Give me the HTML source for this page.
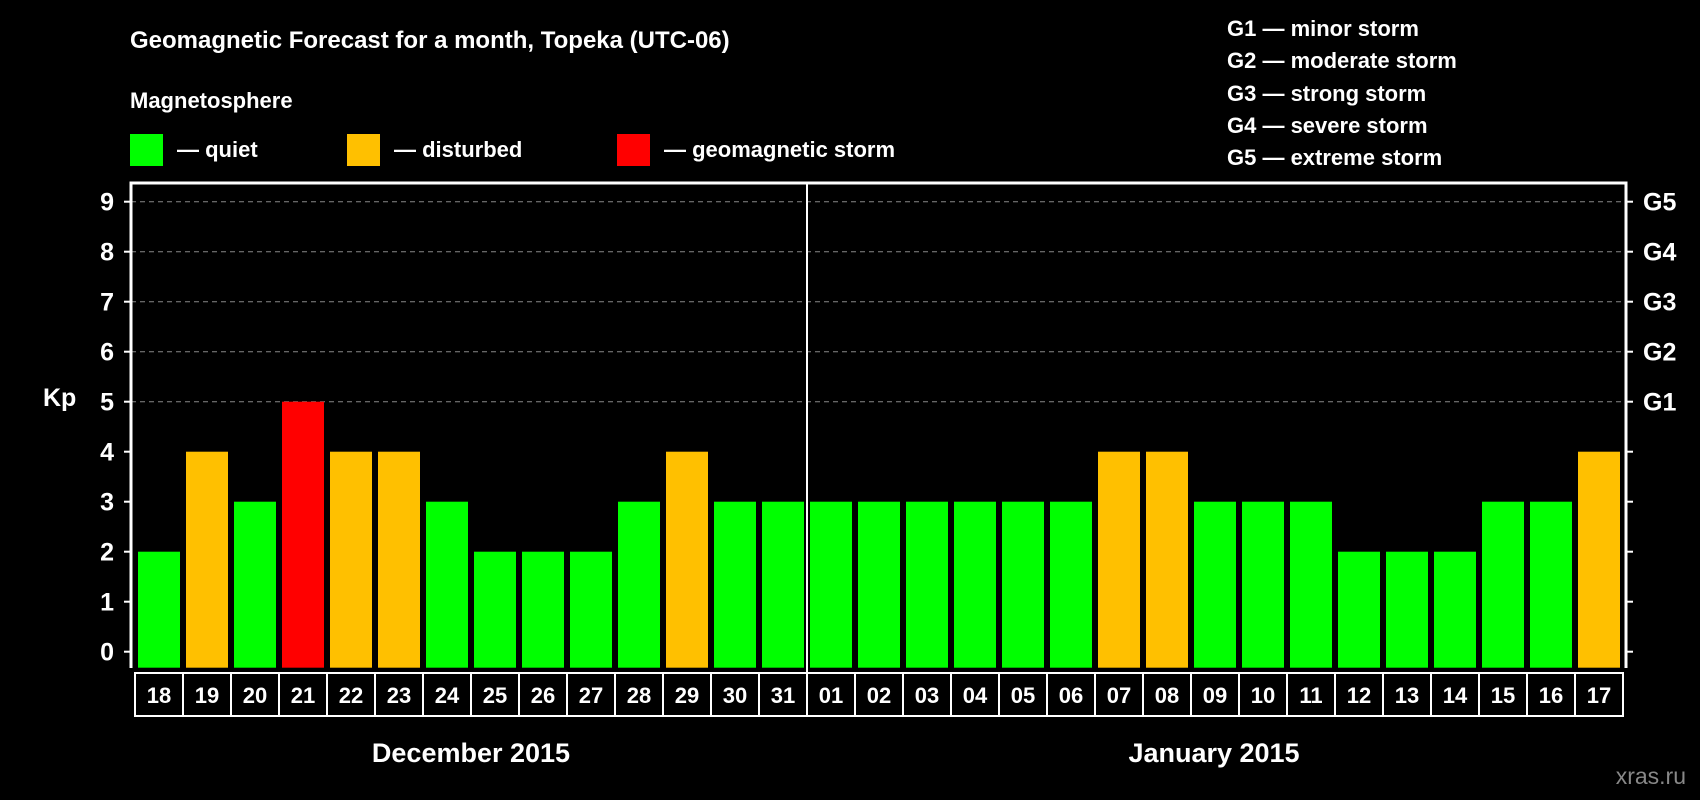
<!DOCTYPE html>
<html><head><meta charset="utf-8"><style>
html,body{margin:0;padding:0;background:#000;}
svg{display:block;font-family:"Liberation Sans",Arial,sans-serif;font-weight:bold;}
</style></head><body>
<svg id="chart" width="1700" height="800" viewBox="0 0 1700 800">
<rect x="0" y="0" width="1700" height="800" fill="#000"/>
<text x="130" y="48" fill="#fff" font-size="24">Geomagnetic Forecast for a month, Topeka (UTC-06)</text>
<text x="130" y="108" fill="#fff" font-size="22">Magnetosphere</text>
<rect x="130" y="134" width="33" height="32" fill="#00ff00"/>
<text x="177" y="157" fill="#fff" font-size="22">— quiet</text>
<rect x="347" y="134" width="33" height="32" fill="#ffc000"/>
<text x="394" y="157" fill="#fff" font-size="22">— disturbed</text>
<rect x="617" y="134" width="33" height="32" fill="#ff0000"/>
<text x="664" y="157" fill="#fff" font-size="22">— geomagnetic storm</text>
<g font-size="22" fill="#fff">
<text x="1227" y="36">G1 — minor storm</text>
<text x="1227" y="68">G2 — moderate storm</text>
<text x="1227" y="101">G3 — strong storm</text>
<text x="1227" y="133">G4 — severe storm</text>
<text x="1227" y="165">G5 — extreme storm</text>
</g>
<text x="43" y="406" fill="#fff" font-size="25">Kp</text>
<text x="1686" y="784" fill="#888" font-size="23" text-anchor="end" font-weight="normal">xras.ru</text>
<g id="grid"></g><g id="bars"></g><g id="axes"></g><g id="dates"></g>
</svg>
<script>
const days = ["18","19","20","21","22","23","24","25","26","27","28","29","30","31","01","02","03","04","05","06","07","08","09","10","11","12","13","14","15","16","17"];
const kpValues = [2,4,3,5,4,4,3,2,2,2,3,4,3,3,3,3,3,3,3,3,4,4,3,3,3,2,2,2,3,3,4];
const yTicks = [0,1,2,3,4,5,6,7,8,9];
const gLabels = ["G1","G2","G3","G4","G5"];
const gLevels = [5,6,7,8,9];
const months = ["December 2015","January 2015"];

const NS="http://www.w3.org/2000/svg";
const x0=138, step=48, bw=42, yBase=651.7, unit=50;
const xPos=i=>x0+i*step;
const yPos=v=>yBase-v*unit;
function mk(tag,attrs,parent){const e=document.createElementNS(NS,tag);for(const k in attrs)e.setAttribute(k,attrs[k]);parent.appendChild(e);return e;}
const grid=document.getElementById('grid'),bars=document.getElementById('bars'),axes=document.getElementById('axes'),dates=document.getElementById('dates');
const L=131,R=1626,T=183,B=668;
gLevels.forEach((v,i)=>{
  const l=mk('line',{x1:L,x2:R,y1:yPos(v),y2:yPos(v),stroke:'#888','stroke-width':1,'stroke-dasharray':'5,4'},grid);
  
  
  const t=mk('text',{x:1643,y:yPos(v)+9,fill:'#fff','font-size':25},axes);
  t.textContent=gLabels[i];
  
  
});
kpValues.forEach((v,i)=>{
  const c=v>=5?'#ff0000':(v>=4?'#ffc000':'#00ff00');
  const r=mk('rect',{x:xPos(i),y:yPos(v),width:bw,height:yBase-yPos(v)+16,fill:c},bars);
  
  
});
yTicks.forEach(v=>{
  mk('line',{x1:124,x2:L,y1:yPos(v),y2:yPos(v),stroke:'#fff','stroke-width':2},axes);
  mk('line',{x1:R,x2:R+7,y1:yPos(v),y2:yPos(v),stroke:'#fff','stroke-width':2},axes);
  const t=mk('text',{x:114,y:yPos(v)+9,fill:'#fff','font-size':25,'text-anchor':'end'},axes);
  t.textContent=v;
  
  
});
const ax=mk('path',{d:`M${L} ${B}V${T}H${R}V${B}`,fill:'none',stroke:'#fff','stroke-width':3},axes);


const dv=mk('line',{x1:807,x2:807,y1:T,y2:716,stroke:'#fff','stroke-width':2},axes);


days.forEach((d,i)=>{
  const cx=xPos(i)+bw/2;
  const r=mk('rect',{x:cx-24,y:673,width:48,height:43,fill:'none',stroke:'#fff','stroke-width':2},dates);
  
  
  const t=mk('text',{x:cx,y:703,fill:'#fff','font-size':22,'text-anchor':'middle'},dates);
  t.textContent=d;
  
  
});
[471,1214].forEach((cx,i)=>{
  const t=mk('text',{x:cx,y:762,fill:'#fff','font-size':27,'text-anchor':'middle'},dates);
  t.textContent=months[i];
  
  
});
</script>
</body></html>
